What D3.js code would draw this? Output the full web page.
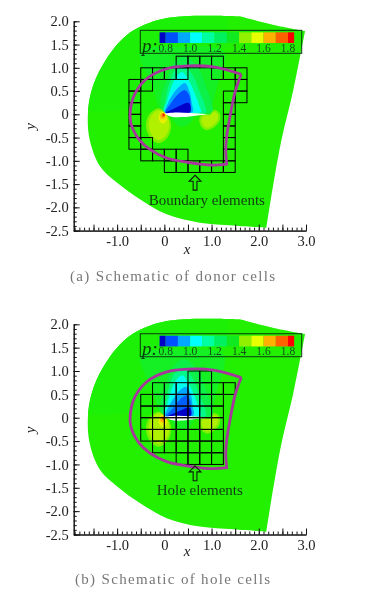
<!DOCTYPE html>
<html>
<head>
<meta charset="utf-8">
<script src="https://cdn.jsdelivr.net/npm/d3@7"></script>
<style>
  html, body { margin: 0; padding: 0; background: #fff; }
  svg { display: block; filter: blur(0.35px); }
  text { font-family: "Liberation Serif", serif; }
  .axis text { font-size: 14.5px; fill: #222; font-family: "Liberation Serif", serif; }
  .axis path, .axis line { stroke: #111; }
</style>
</head>
<body>
<script>
// all shapes are [x, y] in the chart's own units
const xMajor = [-1.5, -1, -0.5, 0, 0.5, 1, 1.5, 2, 2.5, 3];
const xLabels = [-1, 0, 1, 2, 3];
const yMajor = [2, 1.5, 1, 0.5, 0, -0.5, -1, -1.5, -2, -2.5];
const minorStep = 0.1;

const domainLeft = [[1.6, 2.11], [0.44, 2.11], [-0.16, 2.02], [-0.8, 1.7], [-1.29, 1.09], [-1.54, 0.52], [-1.62, 0],
  [-1.58, -0.55], [-1.36, -1.12], [-1, -1.47], [-0.51, -1.83], [0.05, -2.15], [0.75, -2.33], [1.46, -2.39], [2.16, -2.44]];
const domainRight = [[2.16, -2.44], [2.3, -1.55], [2.48, -0.55], [2.73, 0.52], [2.98, 1.79]];
const domainTop = [[2.98, 1.79], [2.37, 1.91], [1.6, 2.11]];

const oversetTop = [[1.63, 0.86], [1.04, 1.02], [0.5, 1.04], [0.05, 0.98], [-0.37, 0.77], [-0.62, 0.45], [-0.72, 0.09],
  [-0.71, -0.19], [-0.53, -0.55], [-0.3, -0.76], [0.05, -0.94], [0.47, -1.03], [0.96, -1.09], [1.32, -1.07]];
const oversetSide = [[1.32, -1.07], [1.3, -0.76], [1.32, -0.48], [1.39, -0.05], [1.49, 0.45], [1.58, 0.74], [1.63, 0.86]];

const levelColors = ['#0000c8', '#0050ff', '#00a8ff', '#00ffff', '#00ffa0', '#00f060', '#10e820', '#90f000', '#e8ff00', '#ffb000', '#ff6000', '#ff0000'];
const levelEdges = [0.75, 0.8, 0.9, 1, 1.1, 1.2, 1.3, 1.4, 1.5, 1.6, 1.7, 1.8, 1.85];
const legendTicks = [0.8, 1, 1.2, 1.4, 1.6, 1.8];

const upperOuter = [
  { color: '#1cf006', pts: [[1.25, 2.3], [1.25, 1.3], [0.85, 0.1], [0, 0.05], [-0.7, 0.1], [-1.9, 0.2], [-1.9, 2.3]] },
  { color: '#14f024', pts: [[-0.5, 1.35], [0.4, 1.45], [1.25, 1.35], [1.12, 0.6], [0.9, 0.05], [0, 0.02], [-0.25, 0.6]] },
  { color: '#0cf048', pts: [[0.42, 1.25], [0.72, 1], [0.88, 0.6], [1, 0.25], [1.02, 0.05], [0.5, 0.02], [0, 0.02], [-0.08, 0.3], [0.05, 0.75], [0.2, 1.1]] },
  { color: '#04f888', pts: [[0.4, 1.05], [0.6, 0.85], [0.74, 0.5], [0.86, 0.2], [0.88, 0.04], [0.5, 0.03], [0, 0.02], [0.02, 0.3], [0.1, 0.65], [0.22, 0.95]] },
  { color: '#00ffee', pts: [[0.38, 0.91], [0.52, 0.72], [0.66, 0.41], [0.74, 0.18], [0.78, 0.05], [0.5, 0.03], [0, 0.02], [0.06, 0.3], [0.15, 0.6], [0.26, 0.82]] }
];
const lobesA = [
  { color: '#00a8ff', pts: [[0.44, 0.67], [0.53, 0.5], [0.58, 0.25], [0.6, 0.05], [0.3, 0.03], [0.01, 0.02], [0.08, 0.25], [0.19, 0.45], [0.32, 0.6]] },
  { color: '#0050ff', pts: [[0.44, 0.52], [0.53, 0.4], [0.56, 0.2], [0.55, 0.05], [0.3, 0.03], [0.02, 0.03], [0.14, 0.24], [0.28, 0.42], [0.36, 0.49]] },
  { color: '#0000c8', pts: [[0.5, 0.25], [0.54, 0.22], [0.55, 0.05], [0.3, 0.035], [0.03, 0.035], [0.2, 0.12], [0.36, 0.2]] }
];
const lobesB = [
  { color: '#00a8ff', pts: [[0.47, 0.66], [0.56, 0.5], [0.6, 0.25], [0.62, 0.05], [0.3, 0.03], [0.01, 0.02], [0.1, 0.25], [0.22, 0.45], [0.34, 0.6]] },
  { color: '#0060ff', pts: [[0.48, 0.48], [0.55, 0.36], [0.57, 0.2], [0.57, 0.05], [0.3, 0.03], [0.03, 0.03], [0.18, 0.2], [0.3, 0.36], [0.4, 0.45]] },
  { color: '#0000c8', pts: [[0.5, 0.22], [0.55, 0.2], [0.56, 0.05], [0.3, 0.035], [0.08, 0.035], [0.22, 0.1], [0.38, 0.17]] }
];
const lowerBlobs = [
  { color: '#14f024', pts: [[0.15, -0.04], [0.4, -0.05], [0.62, -0.05], [0.55, -0.18], [0.37, -0.27], [0.22, -0.18]] },
  { color: '#80f000', pts: [[-0.13, 0.13], [0.03, 0.02], [0.12, -0.12], [0.14, -0.3], [0.05, -0.52], [-0.13, -0.62], [-0.3, -0.5], [-0.39, -0.25], [-0.33, -0.02]] },
  { color: '#b0f000', pts: [[-0.12, 0.09], [0.02, 0.01], [0.09, -0.12], [0.1, -0.29], [0.02, -0.47], [-0.13, -0.55], [-0.26, -0.45], [-0.33, -0.24], [-0.28, -0.03]] },
  { color: '#80f000', pts: [[1.06, 0.1], [1.17, 0.02], [1.17, -0.14], [1.05, -0.28], [0.9, -0.34], [0.78, -0.26], [0.74, -0.1], [0.8, -0.01], [0.95, -0.01]] },
  { color: '#b0f000', pts: [[1.05, 0.05], [1.13, 0], [1.12, -0.13], [1.02, -0.24], [0.9, -0.29], [0.82, -0.23], [0.79, -0.1], [0.84, -0.03], [0.96, -0.02]] },
  { color: '#e8f000', pts: [[-0.06, 0.06], [0.03, 0.01], [0.06, -0.1], [-0.03, -0.2], [-0.12, -0.1]] },
  { color: '#ffb000', pts: [[-0.05, 0.03], [0.02, 0], [0.01, -0.08], [-0.07, -0.09], [-0.09, -0.02]] },
  { color: '#f03000', pts: [[-0.03, 0.02], [0.01, 0], [0, -0.04], [-0.04, -0.04]] }
];
const airfoilUpper = [[0, 0.02], [0.25, 0.04], [0.55, 0.03], [0.97, 0]];
const airfoilLower = [[0.97, 0], [0.65, -0.03], [0.4, -0.06], [0.15, -0.05], [0, 0.02]];

// rows of cells, as [row bottom, first cell left, last cell left]
const cellSize = 0.25;
const donorRows = [
  [1, 0.25, 1], [0.75, -0.5, 0.25], [0.75, 1, 1.5], [0.5, -0.75, -0.5], [0.5, 1.5, 1.5],
  [0.25, -0.75, -0.75], [0.25, 1.25, 1.5], [0, -0.75, -0.75], [0, 1.25, 1.25],
  [-0.25, -0.75, -0.75], [-0.25, 1.25, 1.25], [-0.5, -0.75, -0.75], [-0.5, 1.25, 1.25],
  [-0.75, -0.75, -0.5], [-0.75, 1.25, 1.25], [-1, -0.5, 0.25], [-1, 1.25, 1.25], [-1.25, 0, 1.25]
];
const holeRows = [
  [0.75, 0.5, 0.75], [0.5, -0.25, 1.25], [0.25, -0.5, 1], [0, -0.5, 1], [-0.25, -0.5, 1],
  [-0.5, -0.5, 1], [-0.75, -0.25, 1], [-1, 0.25, 1]
];
const arrowShape = [[0, 0], [0.25, -0.13], [0.08, -0.13], [0.08, -0.32], [-0.08, -0.32], [-0.08, -0.13], [-0.25, -0.13]];

const width = 371;
const height = 593;
const svg = d3.select('body').append('svg').attr('width', width).attr('height', height);

const smooth = d3.line().curve(d3.curveCatmullRom.alpha(0.5));
const blob = d3.line().curve(d3.curveCatmullRomClosed.alpha(0.5));

function drawPanel(cfg) {
  const x = d3.scaleLinear().domain([-1.92, 3]).range([73.7, 306]);
  const y = d3.scaleLinear().domain([-2.5, 2]).range(cfg.yRange);
  const px = (p) => [x(p[0]), y(p[1])];
  const g = svg.append('g');

  const outline = smooth(domainLeft.map(px))
    + smooth(domainRight.map(px)).replace('M', 'L')
    + smooth(domainTop.map(px)).replace('M', 'L') + 'Z';

  g.append('clipPath').attr('id', cfg.id).append('path').attr('d', outline);
  g.append('path').attr('d', outline).attr('fill', '#22f000');

  const field = g.append('g').attr('clip-path', `url(#${cfg.id})`);
  field.selectAll('path.level')
    .data(upperOuter.concat(cfg.lobes, lowerBlobs))
    .enter().append('path')
    .attr('class', 'level')
    .attr('fill', (d) => d.color)
    .attr('d', (d) => blob(d.pts.map(px)));

  g.append('path')
    .attr('d', smooth(airfoilUpper.map(px)) + smooth(airfoilLower.map(px)).replace('M', 'L') + 'Z')
    .attr('fill', '#fff');

  // mesh cells
  const cells = cfg.rows.flatMap((r) => d3.range(r[1], r[2] + 0.01, cellSize).map((c) => [c, r[0]]));
  g.selectAll('rect.cell')
    .data(cells)
    .enter().append('rect')
    .attr('class', 'cell')
    .attr('x', (d) => x(d[0]))
    .attr('y', (d) => y(d[1] + cellSize))
    .attr('width', (d) => x(d[0] + cellSize) - x(d[0]))
    .attr('height', (d) => y(d[1]) - y(d[1] + cellSize))
    .attr('fill', 'none')
    .attr('stroke', '#000')
    .attr('stroke-width', 1);

  g.append('path')
    .attr('d', smooth(oversetTop.map(px)) + smooth(oversetSide.map(px)).replace('M', 'L'))
    .attr('fill', 'none')
    .attr('stroke', '#a8359e')
    .attr('stroke-width', 2.8);

  // arrow + note
  const arrow = arrowShape.map((p) => px([cfg.arrow[0] + p[0] * 0.5, cfg.arrow[1] + p[1]]));
  g.append('path').attr('d', d3.line()(arrow) + 'Z')
    .attr('fill', 'none').attr('stroke', '#0c1c0c').attr('stroke-width', 1.1);
  g.append('text')
    .attr('x', x(cfg.note.x)).attr('y', y(cfg.note.y))
    .attr('text-anchor', 'middle')
    .attr('font-size', 15)
    .attr('fill', '#123a12')
    .text(cfg.note.text);

  // legend
  const p = d3.scaleLinear().domain([0.8, 1.8]).range([165.7, 288]);
  const y0 = y(0);
  const legend = g.append('g');
  legend.append('rect')
    .attr('x', 140.3).attr('y', y0 - 84).attr('width', 161.4).attr('height', 23)
    .attr('fill', 'none').attr('stroke', '#0a3a0a').attr('stroke-width', 1);
  legend.selectAll('rect.band')
    .data(levelColors)
    .enter().append('rect')
    .attr('class', 'band')
    .attr('x', (d, i) => p(levelEdges[i]))
    .attr('y', y0 - 82)
    .attr('width', (d, i) => p(levelEdges[i + 1]) - p(levelEdges[i]))
    .attr('height', 10.7)
    .attr('fill', (d) => d);
  legend.selectAll('text.lab')
    .data(legendTicks)
    .enter().append('text')
    .attr('class', 'lab')
    .attr('x', (d) => p(d))
    .attr('y', y0 - 62.5)
    .attr('text-anchor', 'middle')
    .attr('font-size', 11.5)
    .attr('fill', '#14501a')
    .text((d) => d.toFixed(1));
  legend.append('text')
    .attr('x', 142).attr('y', y0 - 62.5)
    .attr('font-size', 19).attr('font-style', 'italic')
    .attr('fill', '#0a3a0a')
    .text('p:');

  // axes: minor ticks first, labelled majors on top
  const minorX = d3.range(-19, 31).map((v) => v * minorStep);
  const minorY = d3.range(-25, 21).map((v) => v * minorStep);
  g.append('g').attr('class', 'axis')
    .attr('transform', `translate(0,${cfg.yRange[0]})`)
    .call(d3.axisBottom(x).tickValues(minorX).tickSizeInner(-3).tickSizeOuter(0).tickFormat(''));
  g.append('g').attr('class', 'axis')
    .attr('transform', `translate(${x.range()[0]},0)`)
    .call(d3.axisLeft(y).tickValues(minorY).tickSizeInner(-3).tickSizeOuter(0).tickFormat(''));
  g.append('g').attr('class', 'axis')
    .attr('transform', `translate(0,${cfg.yRange[0]})`)
    .call(d3.axisBottom(x).tickValues(xMajor).tickSizeInner(-6).tickSizeOuter(0).tickPadding(5)
      .tickFormat((d) => (xLabels.includes(d) ? (d === 0 ? '0' : d3.format('.1f')(d).replace('−', '-')) : '')));
  g.append('g').attr('class', 'axis')
    .attr('transform', `translate(${x.range()[0]},0)`)
    .call(d3.axisLeft(y).tickValues(yMajor).tickSizeInner(-6).tickSizeOuter(0).tickPadding(5)
      .tickFormat((d) => (d === 0 ? '0' : d3.format('.1f')(d).replace('−', '-'))));

  g.append('text')
    .attr('x', x(0.48)).attr('y', cfg.yRange[0] + cfg.xLabelDy)
    .attr('text-anchor', 'middle')
    .attr('font-size', 15).attr('font-style', 'italic').attr('fill', '#222')
    .text('x');
  g.append('text')
    .attr('transform', `translate(35,${y(-0.26)}) rotate(-90)`)
    .attr('text-anchor', 'middle')
    .attr('font-size', 15).attr('font-style', 'italic').attr('fill', '#222')
    .text('y');

  // caption
  g.append('text')
    .attr('x', cfg.caption.x).attr('y', cfg.caption.y)
    .attr('textLength', cfg.caption.w).attr('lengthAdjust', 'spacing')
    .attr('font-size', 15).attr('fill', '#777')
    .text(cfg.caption.text);
}

drawPanel({
  id: 'domainA', yRange: [230.6, 21.3], lobes: lobesA, rows: donorRows,
  arrow: [0.65, -1.31], note: { x: 0.9, y: -1.95, text: 'Boundary elements' }, xLabelDy: 23,
  caption: { x: 70, y: 281, w: 205, text: '(a) Schematic of donor cells' }
});
drawPanel({
  id: 'domainB', yRange: [534.5, 324.3], lobes: lobesB, rows: holeRows,
  arrow: [0.65, -1.03], note: { x: 0.75, y: -1.66, text: 'Hole elements' }, xLabelDy: 21,
  caption: { x: 75, y: 584, w: 195, text: '(b) Schematic of hole cells' }
});
</script>
</body>
</html>
